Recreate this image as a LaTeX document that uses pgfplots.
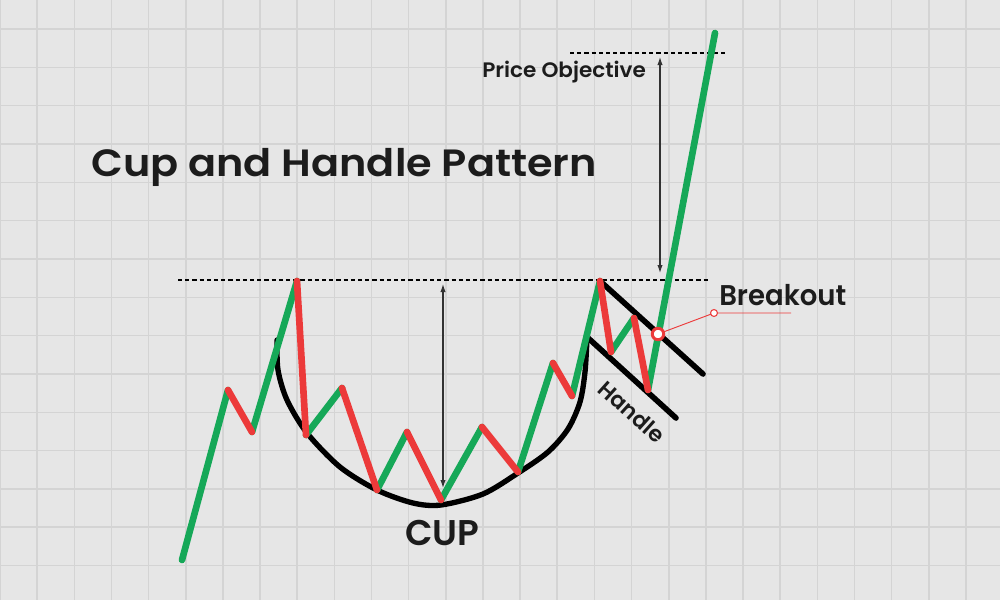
\documentclass[border=0pt]{standalone}
\usepackage{fontspec}
\setmainfont{Poppins}[BoldFont={Poppins SemiBold}]
\usepackage{pgfplots}
\pgfplotsset{compat=1.18}
\usetikzlibrary{arrows.meta}
\definecolor{bg}{RGB}{230,230,230}
\definecolor{gridc}{RGB}{212,212,212}
\definecolor{upg}{RGB}{22,168,88}
\definecolor{dnr}{RGB}{236,58,58}
\definecolor{txt}{RGB}{28,28,28}
\definecolor{arr}{RGB}{50,50,50}
\begin{document}
\begin{tikzpicture}
\begin{axis}[
  x=0.75pt, y=0.75pt, y dir=reverse,
  xmin=0,xmax=1000,ymin=0,ymax=600,
  axis line style={draw=none},
  axis background/.style={fill=bg},
  xtick={0,37.15,...,1000}, ytick={29,67.33,...,600},
  xticklabels={}, yticklabels={},
  major tick length=0pt,
  grid=major, grid style={gridc, line width=1.2pt},
  unbounded coords=jump,
  clip=true,
]
% dashed reference lines
\draw[black, line width=1.1pt, dash pattern=on 3.2pt off 2.2pt] (axis cs:178,280) -- (axis cs:708,280);
\draw[black, line width=1.1pt, dash pattern=on 3.2pt off 2.2pt] (axis cs:570,53) -- (axis cs:725,53);
% measuring arrows
\draw[arr, line width=0.8pt, {Latex[length=6pt,width=4pt]}-{Latex[length=6pt,width=4pt]}] (axis cs:443,284) -- (axis cs:443,488);
\draw[arr, line width=0.8pt, {Latex[length=6pt,width=4pt]}-{Latex[length=6pt,width=4pt]}] (axis cs:660,57) -- (axis cs:660,273);
% cup
\addplot[black, line width=4pt, smooth, line cap=round] coordinates {
(277,340) (278,370) (287,400) (307,433) (340,467) (377,490) (413,503) (441,505)
(483,494) (518,473) (548,452) (568,429) (580,402) (585,372) (587,338)};
% handle channel
\addplot[black, line width=4.2pt, line cap=round] coordinates {(587,337) (676,418)};
\addplot[black, line width=4.2pt, line cap=round] coordinates {(600,281) (703,374)};
% price path: rising legs
\addplot[upg, line width=5pt, line cap=round] coordinates {
(182,560) (228,390) (nan,nan)
(252,432) (297,281) (nan,nan)
(306,435) (342,388) (nan,nan)
(377,490) (407,432) (nan,nan)
(441,500) (482,427) (nan,nan)
(518,472) (553,363) (nan,nan)
(572,396) (600,281) (nan,nan)
(611,352) (634,318) (nan,nan)
(648,390) (715,33)};
% price path: falling legs
\addplot[dnr, line width=5pt, line cap=round] coordinates {
(228,390) (252,432) (nan,nan)
(297,281) (306,435) (nan,nan)
(342,388) (377,490) (nan,nan)
(407,432) (441,500) (nan,nan)
(482,427) (518,472) (nan,nan)
(553,363) (572,396) (nan,nan)
(600,281) (611,352) (nan,nan)
(634,318) (648,390)};
% breakout marker
\addplot[dnr, line width=0.7pt] coordinates {(658,334) (714,313) (791,313)};
\addplot[only marks, mark=*, mark size=2.6pt, mark options={fill=white, draw=dnr, line width=0.8pt}] coordinates {(714,313)};
\addplot[only marks, mark=*, mark size=4.3pt, mark options={fill=white, draw=dnr, line width=2.2pt}] coordinates {(658,334)};
% texts
\node[anchor=base west, inner sep=0pt, txt, xscale=1.09, font=\fontsize{28.5}{30}\selectfont\bfseries] at (axis cs:91,176.7) {Cup and Handle Pattern};
\node[anchor=base west, inner sep=0pt, txt, xscale=1.03, font=\fontsize{15.7}{17}\selectfont\bfseries] at (axis cs:482,77.3) {Price Objective};
\node[anchor=base, inner sep=0pt, txt, font=\fontsize{26.8}{28}\selectfont\bfseries] at (axis cs:442.5,545) {CUP};
\node[anchor=base west, inner sep=0pt, txt, xscale=0.965, font=\fontsize{21.4}{23}\selectfont\bfseries] at (axis cs:719,305) {Breakout};
\node[inner sep=0pt, txt, rotate=-42, font=\fontsize{16.5}{18}\selectfont\bfseries] at (axis cs:632,412) {Handle};
\end{axis}
\pgfresetboundingbox
\path[use as bounding box] (current axis.south west) rectangle (current axis.north east);
\end{tikzpicture}
\end{document}
